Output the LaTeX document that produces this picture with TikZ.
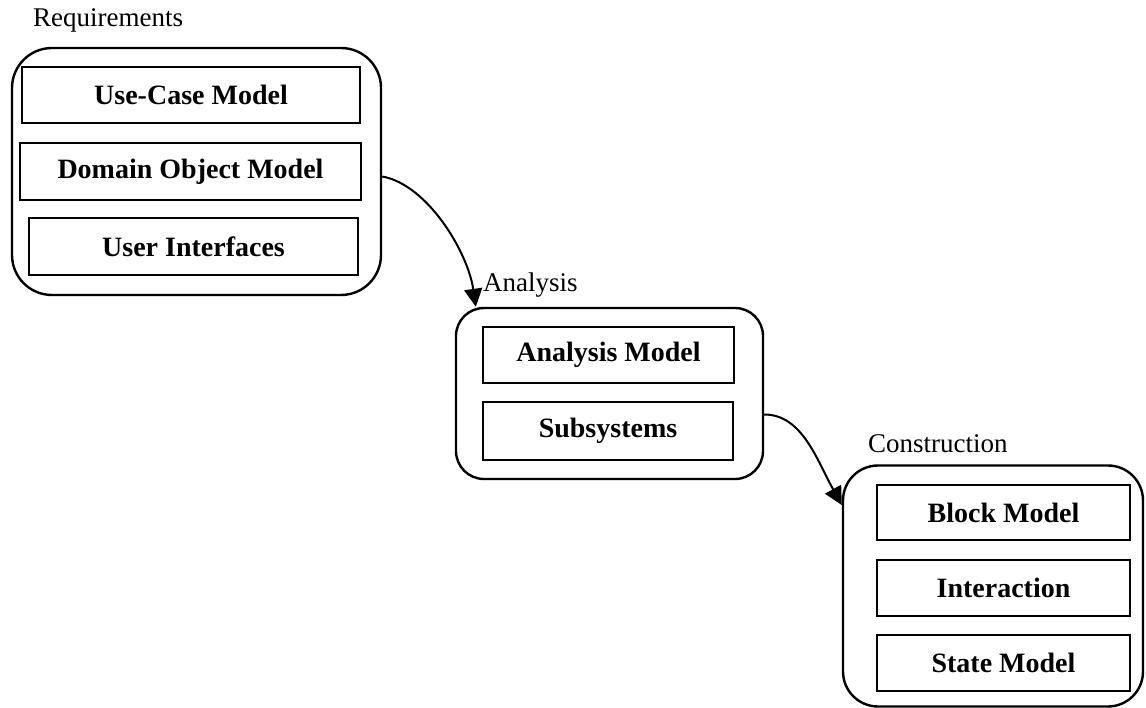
\documentclass[tikz,border=0pt]{standalone}
\usepackage{fontspec}
\setmainfont{Liberation Serif}
\usetikzlibrary{arrows.meta}

\begin{document}
\begin{tikzpicture}[x=1pt,y=-1pt,
  grp/.style={draw,line width=2.4pt,rounded corners=#1,inner sep=0pt},
  grp/.default=30pt,
  part/.style={draw,line width=2pt,inner sep=0pt,font=\bfseries\fontsize{28}{32}\selectfont},
  lbl/.style={anchor=base west,inner sep=0pt,font=\fontsize{27}{30}\selectfont},
  arr/.style={-{Triangle[length=18pt,width=18pt]},line width=2pt}
]
  \fill[white] (0,0) rectangle (1146,708);
  \useasboundingbox (0,0) rectangle (1146,708);
  % groups
  \node[grp=40pt,minimum width=369pt,minimum height=247pt] (req) at (196.5,171.5) {};
  \node[grp=28pt,minimum width=307pt,minimum height=171pt] (ana) at (609.5,393.5) {};
  \node[grp=35pt,minimum width=300pt,minimum height=241pt] (con) at (993,586) {};
  \node[lbl] (reqlbl) at (33,27) {Requirements};
  \node[lbl] (analbl) at (483,292) {Analysis};
  \node[lbl] (conlbl) at (868,452) {Construction};
  % requirements
  \node[part,minimum width=338pt,minimum height=56pt] (usecase) at (191,95) {Use-Case Model};
  \node[part,minimum width=341pt,minimum height=57pt] (domain) at (190.5,171.5) {Domain Object Model};
  \node[part,minimum width=329pt,minimum height=57pt] (ui) at (193.5,246.5) {User Interfaces};
  % analysis
  \node[part,minimum width=251pt,minimum height=56pt] (anamodel) at (608.5,355) {Analysis Model};
  \node[part,minimum width=250pt,minimum height=58pt] (subsys) at (608,431) {Subsystems};
  % construction
  \node[part,minimum width=253pt,minimum height=55pt] (block) at (1003.5,512.5) {Block Model};
  \node[part,minimum width=253pt,minimum height=56pt] (inter) at (1003.5,588) {Interaction};
  \node[part,minimum width=253pt,minimum height=56pt] (state) at (1003.5,663) {State Model};
  % flow
  \draw[arr] ([yshift=-5pt]req.east) .. controls +(45,8) and +(-8,-55) .. ([xshift=21pt]ana.north west);
  \draw[arr] ([yshift=-21pt]ana.east) .. controls +(38,0) and +(-25,-45) .. ([yshift=81pt]con.west);
\end{tikzpicture}
\end{document}
